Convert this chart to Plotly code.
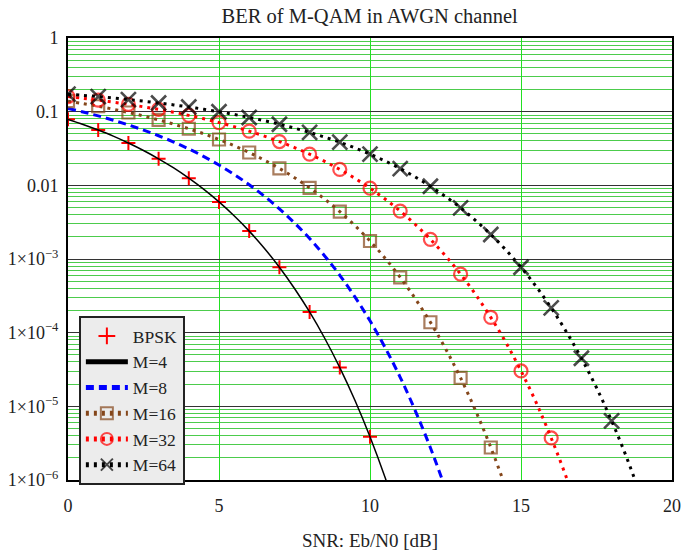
import plotly.graph_objects as go

# ---------------- data ----------------
snr_half = [i * 0.5 for i in range(39)]          # 0 .. 19 dB in 0.5 dB steps
bpsk_snr = [0, 1, 2, 3, 4, 5, 6, 7, 8, 9, 10]
bpsk_ber = [0.0786, 0.0563, 0.0375, 0.0229, 0.0125, 0.00595, 0.00239,
            0.000773, 0.000191, 3.36e-5, 3.87e-6]

m4_ber = [0.0786, 0.0671, 0.0563, 0.0465, 0.0375, 0.0297, 0.0229, 0.0172,
          0.0125, 0.0088, 0.00595, 0.00386, 0.00239, 0.0014, 0.000773,
          0.000398, 0.000191, 8.4e-5, 3.36e-5, 1.21e-5, 3.87e-6, 1.08e-6, 2.6e-7]

m8_ber = [0.1106, 0.0990, 0.0876, 0.0765, 0.0661, 0.0562, 0.0471, 0.0387,
          0.0312, 0.02455, 0.01885, 0.01408, 0.01019, 0.00713, 0.00479,
          0.00309, 0.0019, 0.0011, 0.000601, 0.000306, 0.0001448, 6.28e-5,
          2.48e-5, 8.7e-6, 2.74e-6, 7.5e-7, 1.75e-7]

m16_ber = [0.1391, 0.1286, 0.1184, 0.1078, 0.0975, 0.0874, 0.0774, 0.0677,
           0.0586, 0.0500, 0.0419, 0.0345, 0.0279, 0.0220, 0.01697, 0.01271,
           0.00923, 0.0065, 0.00439, 0.00284, 0.001755, 0.001026, 0.000564,
           0.000289, 0.0001385, 6.08e-5, 2.43e-5, 8.66e-6, 2.76e-6, 7.7e-7, 1.84e-7]

m32_ber = [0.1602, 0.1517, 0.1432, 0.1344, 0.1255, 0.1164, 0.1072, 0.0980,
           0.0890, 0.0800, 0.0711, 0.0626, 0.0544, 0.0466, 0.0393, 0.0326,
           0.0265, 0.0211, 0.01643, 0.01244, 0.00916, 0.00651, 0.00447,
           0.00294, 0.00185, 0.001105, 0.000622, 0.000328, 0.0001612, 7.36e-5,
           3.02e-5, 1.13e-5, 3.72e-6, 1.09e-6, 2.77e-7]

m64_ber = [0.1728, 0.1665, 0.1600, 0.1531, 0.1460, 0.1388, 0.1312, 0.1236,
           0.1157, 0.1078, 0.0996, 0.0916, 0.0834, 0.0754, 0.0675, 0.0597,
           0.0523, 0.0451, 0.0385, 0.0322, 0.0265, 0.0214, 0.01688, 0.01297,
           0.00971, 0.00705, 0.00495, 0.00333, 0.00215, 0.001326, 0.000773,
           0.000424, 0.000217, 0.000103, 4.50e-5, 1.79e-5, 6.35e-6, 2.01e-6, 5.5e-7]

y_tickvals = [1, 0.1, 0.01, 1e-3, 1e-4, 1e-5, 1e-6]
y_ticktext = ["1", "0.1", "0.01", "1×10<sup>−3</sup>", "1×10<sup>−4</sup>",
              "1×10<sup>−5</sup>", "1×10<sup>−6</sup>"]
x_tickvals = [0, 5, 10, 15, 20]

title_text = "BER of M-QAM in AWGN channel"
x_title = "SNR: Eb/N0 [dB]"

# ---------------- styling ----------------
FONT = "Liberation Serif"
TXT = "#222222"
GREEN_MINOR = "#4ccc4c"
GREEN_V = "#22e022"
BROWN = "#84461a"


def marker_sizes(xs, size):
    return [size if float(x).is_integer() else 0 for x in xs]


fig = go.Figure()

fig.add_trace(go.Scatter(
    x=bpsk_snr, y=bpsk_ber, mode="markers", name="BPSK",
    marker=dict(symbol="cross-thin-open", size=10, color="red",
                line=dict(color="red", width=2))))

fig.add_trace(go.Scatter(
    x=snr_half[:len(m4_ber)], y=m4_ber, mode="lines", name="M=4",
    line=dict(color="black", width=1.5, shape="spline")))

fig.add_trace(go.Scatter(
    x=snr_half[:len(m8_ber)], y=m8_ber, mode="lines", name="M=8",
    line=dict(color="blue", width=3, dash="8px,5px", shape="spline")))

for name, vals, color, sym, size, lw in [
        ("M=16", m16_ber, BROWN, "square-open", 12, 2.2),
        ("M=32", m32_ber, "red", "circle-open", 13, 2.2),
        ("M=64", m64_ber, "black", "x-thin-open", 15, 2.6)]:
    xs = snr_half[:len(vals)]
    fig.add_trace(go.Scatter(
        x=xs, y=vals, mode="lines+markers", name=name,
        line=dict(color=color, width=3, dash="3px,5px", shape="spline"),
        marker=dict(symbol=sym, size=marker_sizes(xs, size), color=color,
                    line=dict(color=color, width=lw))))

fig.update_layout(
    width=689, height=551,
    margin=dict(l=68, r=17, t=38, b=71, autoexpand=False),
    paper_bgcolor="white", plot_bgcolor="white",
    font=dict(family=FONT, size=17, color=TXT),
    title=dict(text=title_text, x=0.5365, xanchor="center",
               y=1 - 16 / 551, yanchor="middle", automargin=False,
               font=dict(family=FONT, size=20.5, color=TXT)),
    legend=dict(x=0.018, y=0.371, xanchor="left", yanchor="top",
                bgcolor="#ececec", bordercolor="#222222", borderwidth=2,
                font=dict(family=FONT, size=17.5, color=TXT),
                itemsizing="constant", itemwidth=42, tracegroupgap=0),
    showlegend=True,
)

fig.update_xaxes(
    range=[0, 20], tickvals=x_tickvals, ticks="", ticklabelstandoff=8,
    automargin=False,
    showgrid=True, gridcolor=GREEN_V, gridwidth=1, zeroline=False,
    showline=True, linecolor="black", linewidth=2, mirror=True,
    tickfont=dict(family=FONT, size=18, color=TXT),
    title=dict(text=x_title, font=dict(family=FONT, size=19, color=TXT), standoff=30),
)

fig.update_yaxes(
    type="log", range=[-6, 0], tickvals=y_tickvals, ticktext=y_ticktext,
    ticks="", ticklabelstandoff=4, automargin=False,
    showgrid=True, gridcolor="#333333", gridwidth=1, zeroline=False,
    showline=True, linecolor="black", linewidth=2, mirror=True,
    tickfont=dict(family=FONT, size=18, color=TXT),
    minor=dict(dtick="D1", showgrid=True, gridcolor=GREEN_MINOR, gridwidth=1, ticks=""),
)

fig.write_html("out.html", config={"displayModeBar": False},
               post_script="document.body.style.margin='0';document.body.style.padding='0';")
